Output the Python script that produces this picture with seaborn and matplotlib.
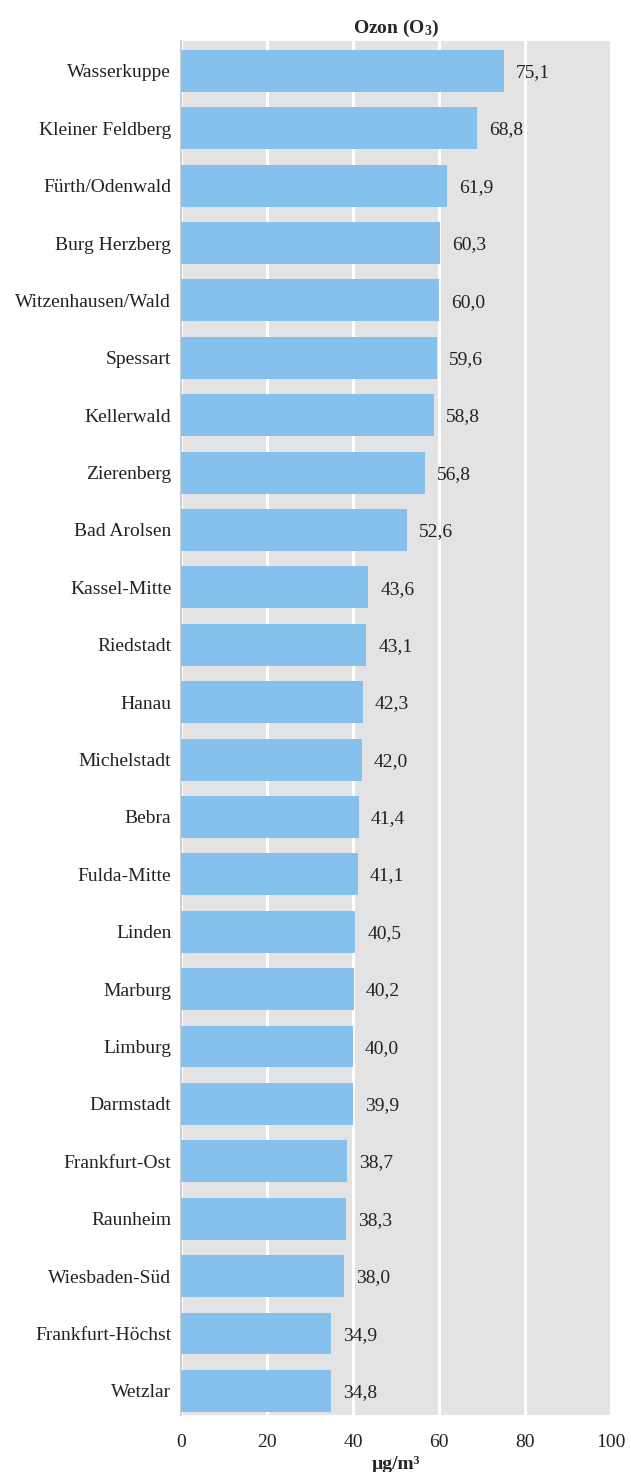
import matplotlib
matplotlib.use("Agg")
import matplotlib.pyplot as plt
import seaborn as sns
import pandas as pd

stations = [
    "Wasserkuppe", "Kleiner Feldberg", "Fürth/Odenwald", "Burg Herzberg",
    "Witzenhausen/Wald", "Spessart", "Kellerwald", "Zierenberg", "Bad Arolsen",
    "Kassel-Mitte", "Riedstadt", "Hanau", "Michelstadt", "Bebra", "Fulda-Mitte",
    "Linden", "Marburg", "Limburg", "Darmstadt", "Frankfurt-Ost", "Raunheim",
    "Wiesbaden-Süd", "Frankfurt-Höchst", "Wetzlar",
]
ozone = [
    75.1, 68.8, 61.9, 60.3, 60.0, 59.6, 58.8, 56.8, 52.6, 43.6, 43.1, 42.3,
    42.0, 41.4, 41.1, 40.5, 40.2, 40.0, 39.9, 38.7, 38.3, 38.0, 34.9, 34.8,
]
x_ticks = [0, 20, 40, 60, 80, 100]

df = pd.DataFrame({"station": stations, "ozone": ozone})

sns.set_theme(style="white")
plt.rcParams["font.family"] = ["Liberation Serif", "DejaVu Serif"]
plt.rcParams["mathtext.fontset"] = "custom"
plt.rcParams["mathtext.rm"] = "Liberation Serif"
plt.rcParams["mathtext.bf"] = "Liberation Serif:bold"

FS = 14
TXT = "#222222"

fig = plt.figure(figsize=(6.31, 14.72), dpi=100)
ax = fig.add_axes([181 / 631, 1 - 1415 / 1472, 430 / 631, 1374 / 1472])
ax.set_facecolor("#e3e3e3")

sns.barplot(data=df, x="ozone", y="station", color="#85c1ec", saturation=1,
            width=0.73, linewidth=0, ax=ax, zorder=3)

ax.set_xlim(0, 100)
ax.set_ylim(23.42, -0.52)
ax.set_xticks(x_ticks)
ax.set_xticklabels([str(t) for t in x_ticks], fontsize=FS, color=TXT)
ax.tick_params(axis="y", labelsize=FS, labelcolor=TXT, length=0, pad=7)
ax.tick_params(axis="x", length=0, pad=14)
ax.xaxis.grid(True, color="white", linewidth=2.2, zorder=1)
ax.set_axisbelow(True)
for side in ["top", "right", "bottom"]:
    ax.spines[side].set_visible(False)
ax.spines["left"].set_color("#d0d0d0")
ax.spines["left"].set_linewidth(1.5)

for i, v in enumerate(ozone):
    ax.text(v + 2.8, i + 0.03, f"{v:.1f}".replace(".", ","), va="center",
            ha="left", fontsize=FS, color=TXT, zorder=4)

ax.set_ylabel("")
ax.set_xlabel("µg/m³", fontsize=FS, fontweight="bold", labelpad=3)
ax.set_title(r"Ozon ($\mathbf{O_3}$)", fontsize=FS, fontweight="bold", pad=6)

fig.savefig("out.png", dpi=100)
